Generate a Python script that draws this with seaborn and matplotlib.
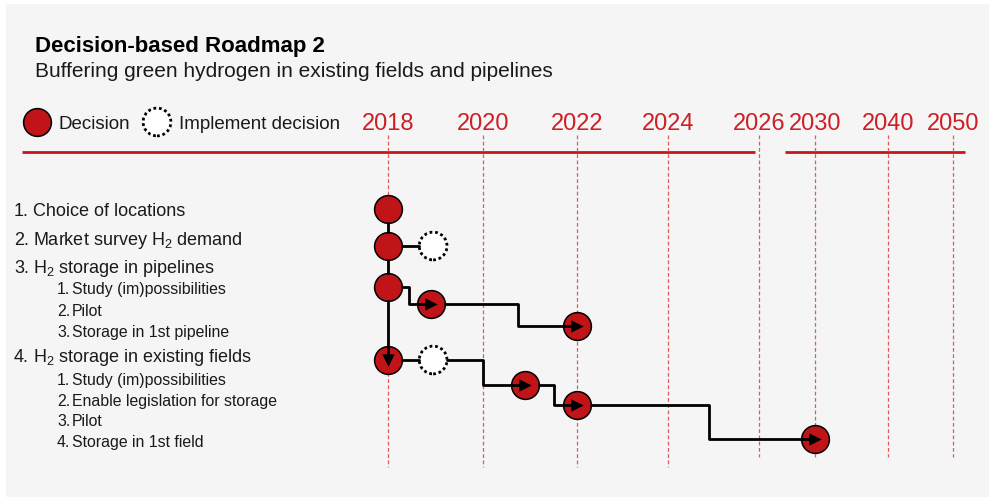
import numpy as np
import pandas as pd
import matplotlib
matplotlib.use("Agg")
import matplotlib.pyplot as plt
from matplotlib.patches import Rectangle
import seaborn as sns

# ---------------- data ----------------
title = "Decision-based Roadmap 2"
subtitle = "Buffering green hydrogen in existing fields and pipelines"
legend_labels = ["Decision", "Implement decision"]

tick_years = [2018, 2020, 2022, 2024, 2026, 2030, 2040, 2050]
tick_labels = ["2018", "2020", "2022", "2024", "2026", "2030", "2040", "2050"]

row_numbers = ["1.", "2.", "3.", "1.", "2.", "3.", "4.", "1.", "2.", "3.", "4."]
row_texts = ["Choice of locations", "Market survey H$_2$ demand",
             "H$_2$ storage in pipelines", "Study (im)possibilities", "Pilot",
             "Storage in 1st pipeline", "H$_2$ storage in existing fields",
             "Study (im)possibilities", "Enable legislation for storage",
             "Pilot", "Storage in 1st field"]
row_level = [0, 0, 0, 1, 1, 1, 0, 1, 1, 1, 1]

node_names = ["n1", "n2", "n2i", "n3", "n31", "n33", "n4", "n4i", "n41", "n42", "n44"]
node_years = [2018, 2018, 2018.95, 2018, 2018.9, 2022, 2018, 2018.95, 2020.9, 2022, 2030]
node_y = [209, 246, 246, 287, 304, 326, 360, 360, 385, 405, 439]
node_kind = ["Decision", "Decision", "Implement", "Decision", "Decision", "Decision",
             "Decision", "Implement", "Decision", "Decision", "Decision"]

edge_from = ["n1", "n2", "n3", "n2", "n3", "n31", "n4", "n4i", "n41", "n42"]
edge_to = ["n2", "n3", "n4", "n2i", "n31", "n33", "n4i", "n41", "n42", "n44"]
edge_step = [None, None, None, None, 2018.45, 2020.75, None, 2020.0, 2021.5, 2024.9]
edge_arrow = [False, False, True, False, True, True, False, True, True, True]

# ---------------- layout ----------------
W, H = 989, 497
RED = "#c8141c"
TXT_RED = "#cc1f26"
FILL = "#c01419"
GRID = "#e05a5a"
BG = "#f5f5f5"
R = 14  # node radius, px

# pixel anchors of the time axis (piecewise-linear scale)
anchor_years = [2009.83] + tick_years + [2055.54]
anchor_px = [0, 388, 483, 577, 668, 759, 815, 888, 953, W]

def fwd(v):
    return np.interp(v, anchor_years, anchor_px)

def inv(p):
    return np.interp(p, anchor_px, anchor_years)

row_baselines = [216, 245, 273, 294, 316, 337, 362, 385, 406, 426, 447]

FONT = ["Liberation Sans", "DejaVu Sans"]
sns.set_theme(style="white")
plt.rcParams["font.family"] = FONT
plt.rcParams["mathtext.default"] = "regular"

fig = plt.figure(figsize=(W / 100, H / 100), dpi=100)
fig.patch.set_facecolor("white")

# canvas axes in pixel units
cv = fig.add_axes([0, 0, 1, 1])
cv.set_xlim(0, W)
cv.set_ylim(H, 0)
cv.axis("off")
cv.add_patch(Rectangle((6, 4), W - 6, H - 4, facecolor=BG, edgecolor="none", zorder=0))

cv.text(35, 52, title, fontsize=16, fontweight="bold", color="black", va="baseline")
cv.text(35, 77, subtitle, fontsize=15, color="#1a1a1a", va="baseline")

# legend
leg = pd.DataFrame({"x": [37, 157], "y": [122, 122], "kind": ["Decision", "Implement"]})
sns.scatterplot(data=leg[leg.kind == "Decision"], x="x", y="y", s=400, color=FILL,
                edgecolor="black", linewidth=1.1, ax=cv, zorder=3, legend=False)
sns.scatterplot(data=leg[leg.kind == "Implement"], x="x", y="y", s=400, color="white",
                edgecolor="black", linewidth=2.0, linestyle=(0, (1, 1)), ax=cv,
                zorder=3, legend=False)
cv.text(58, 129, legend_labels[0], fontsize=13.5, va="baseline", color="#1a1a1a")
cv.text(179, 129, legend_labels[1], fontsize=13.5, va="baseline", color="#1a1a1a")
cv.set_xlim(0, W)
cv.set_ylim(H, 0)

# header rule
cv.hlines(152, 22, 755, color=RED, linewidth=2)
cv.hlines(152, 785, 965, color=RED, linewidth=2)

# row labels
for num, txt, lvl, yb in zip(row_numbers, row_texts, row_level, row_baselines):
    if lvl == 0:
        cv.text(14, yb, num, fontsize=13, va="baseline", color="#1a1a1a")
        cv.text(33, yb, txt, fontsize=13, va="baseline", color="#1a1a1a")
    else:
        cv.text(57, yb, num, fontsize=11.4, va="baseline", color="#1a1a1a")
        cv.text(72, yb, txt, fontsize=11.4, va="baseline", color="#1a1a1a")

# timeline axes
ax = fig.add_axes([0, 0, 1, 1])
ax.patch.set_alpha(0)

nodes = pd.DataFrame({"name": node_names, "year": node_years, "y": node_y, "kind": node_kind})
nd = nodes.set_index("name")

# connectors
rows = []
arrows = []
for i, (a, b, st, arr) in enumerate(zip(edge_from, edge_to, edge_step, edge_arrow)):
    x0, y0 = nd.loc[a, "year"], nd.loc[a, "y"]
    x1, y1 = nd.loc[b, "year"], nd.loc[b, "y"]
    if x0 == x1:  # vertical
        pts = [(x0, y0 + R), (x1, y1 if arr else y1 - R)]
        if arr:
            arrows.append((x1, y1, "v"))
    else:
        xs = inv(fwd(x0) + R)
        xe = x1 if arr else inv(fwd(x1) - R)
        if st is None:
            pts = [(xs, y0), (xe, y1)]
        else:
            pts = [(xs, y0), (st, y0), (st, y1), (xe, y1)]
        if arr:
            arrows.append((x1, y1, ">"))
    for k, (px, py) in enumerate(pts):
        rows.append({"edge": i, "order": k, "year": px, "y": py})
edges = pd.DataFrame(rows)

# grid
for yr in tick_years:
    yend = 467 if yr <= 2024 else 457
    ax.vlines(yr, 135, yend, color=GRID, linewidth=0.9, linestyle=(0, (3, 2)), zorder=1)

sns.lineplot(data=edges, x="year", y="y", units="edge", estimator=None, sort=False,
             color="black", linewidth=2.0, ax=ax, zorder=3, legend=False)

dec = nodes[nodes.kind == "Decision"]
imp = nodes[nodes.kind == "Implement"]
sns.scatterplot(data=dec, x="year", y="y", s=400, color=FILL, edgecolor="black",
                linewidth=1.1, ax=ax, zorder=2, legend=False)
sns.scatterplot(data=imp, x="year", y="y", s=400, color="white", edgecolor="black",
                linewidth=2.0, linestyle=(0, (1, 1)), ax=ax, zorder=2, legend=False)

for (xa, ya, m) in arrows:
    ax.scatter([xa], [ya], marker=m, s=80, color="black", zorder=4, linewidths=0)

# year labels
for yr, lab in zip(tick_years, tick_labels):
    ax.text(yr, 130, lab, fontsize=17, color=TXT_RED, ha="center", va="baseline")

ax.set_xscale("function", functions=(fwd, inv))
ax.set_xlim(anchor_years[0], anchor_years[-1])
ax.set_ylim(H, 0)
ax.axis("off")

fig.savefig("out.png", dpi=100, facecolor=fig.get_facecolor())
